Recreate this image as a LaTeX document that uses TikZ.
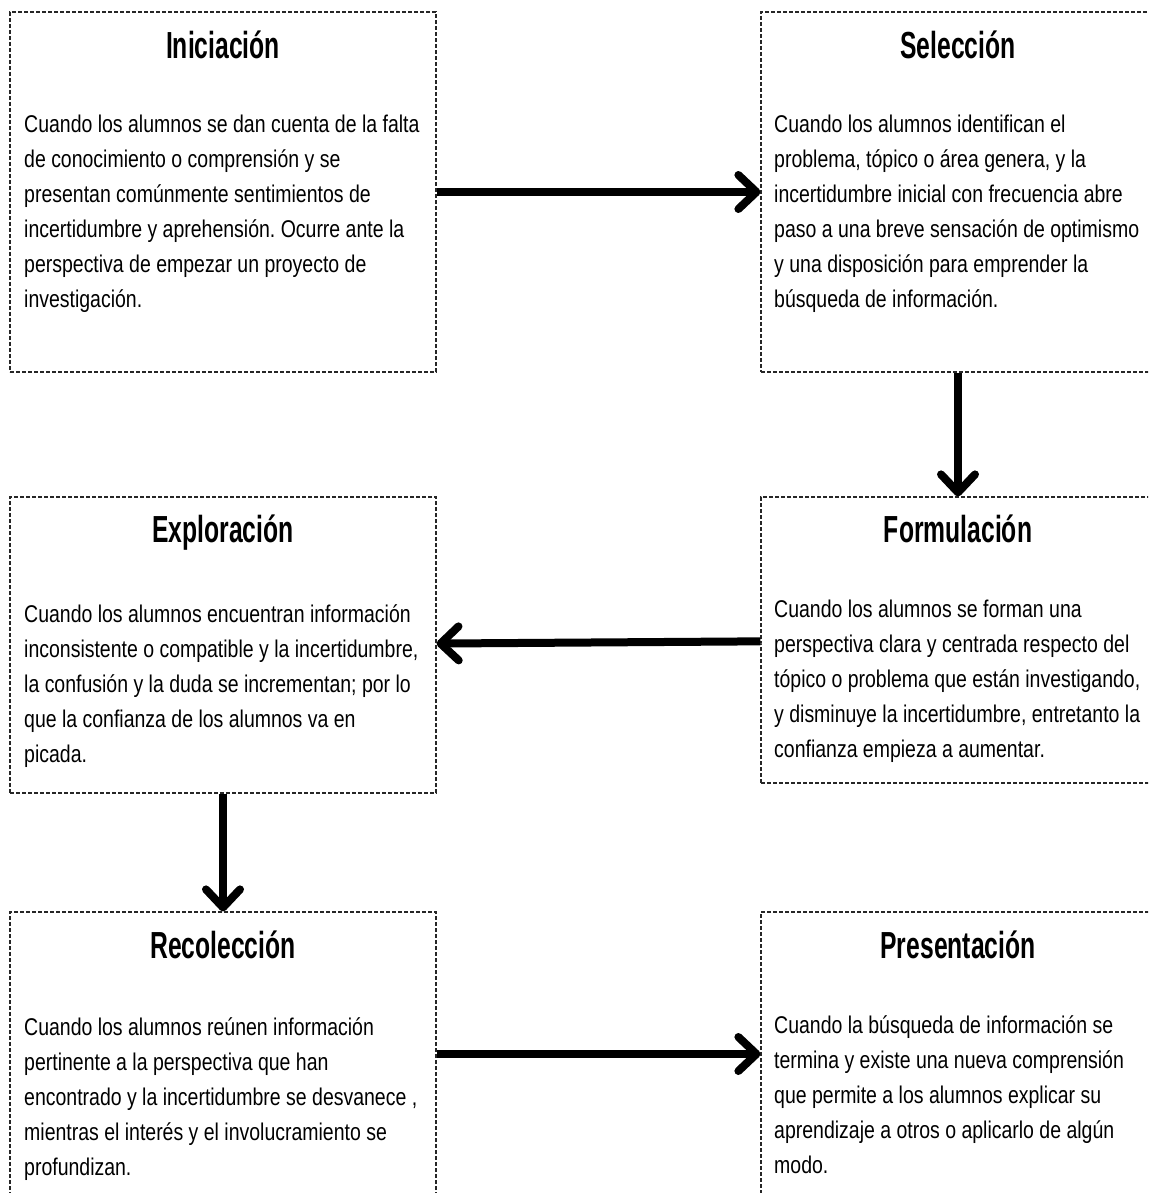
\documentclass[tikz,border=0pt]{standalone}
\usepackage{fontspec}
\setmainfont{Liberation Sans}[FakeStretch=0.805]
\newfontfamily\titlefont{Liberation Sans}[FakeStretch=0.655]
\usetikzlibrary{arrows.meta}
\frenchspacing

\begin{document}
\begin{tikzpicture}[x=1pt, y=-1pt,
	caja/.style={rectangle, draw=black!85, line width=1.2pt, dash pattern=on 4pt off 2pt, inner sep=0pt},
	titulo/.style={inner sep=0pt, anchor=base, font=\titlefont\bfseries\fontsize{37.7}{40}\selectfont},
	texto/.style={inner sep=0pt, anchor=base west, align=left, font=\fontsize{24.2}{35}\selectfont},
	flecha/.style={draw=black, line width=8pt, -{Straight Barb[length=18pt, width=34pt, round]},
		preaction={draw=black!15, transform canvas={shift={(1.5pt,-2.5pt)}}}}]
			\useasboundingbox (0,0) rectangle (1148,1193);
			\clip (0,0) rectangle (1148,1193);
			
			\node[caja, minimum width=426, minimum height=360] (inic) at (223,192){};
			\node[caja, minimum width=394, minimum height=360] (sele) at (958,192){};
			\node[caja, minimum width=426, minimum height=296] (expl) at (223,645){};
			\node[caja, minimum width=394, minimum height=286] (form) at (958,640){};
			\node[caja, minimum width=426, minimum height=284] (reco) at (223,1054){};
			\node[caja, minimum width=394, minimum height=284] (pres) at (958,1054){};
			
			\node[titulo] (t1) at (223,59){Iniciación};
			\node[titulo] (t2) at (958,59){Selección};
			\node[titulo] (t3) at (223,542){Exploración};
			\node[titulo] (t4) at (958,542){Formulación};
			\node[titulo] (t5) at (223,958){Recolección};
			\node[titulo] (t6) at (958,958){Presentación};
			
			% base = baseline of the last line
			\node[texto] (d1) at (24,307){Cuando los alumnos se dan cuenta de la falta\\de conocimiento o comprensión y se\\presentan comúnmente sentimientos de\\incertidumbre y aprehensión. Ocurre ante la\\perspectiva de empezar un proyecto de\\investigación.};
			\node[texto] (d2) at (774,307){Cuando los alumnos identifican el\\problema, tópico o área genera, y la\\incertidumbre inicial con frecuencia abre\\paso a una breve sensación de optimismo\\y una disposición para emprender la\\búsqueda de información.};
			\node[texto] (d3) at (24,762){Cuando los alumnos encuentran información\\inconsistente o compatible y la incertidumbre,\\la confusión y la duda se incrementan; por lo\\que la confianza de los alumnos va en\\picada.};
			\node[texto] (d4) at (774,757){Cuando los alumnos se forman una\\perspectiva clara y centrada respecto del\\tópico o problema que están investigando,\\y disminuye la incertidumbre, entretanto la\\confianza empieza a aumentar.};
			\node[texto] (d5) at (24,1175){Cuando los alumnos reúnen información\\pertinente a la perspectiva que han\\encontrado y la incertidumbre se desvanece ,\\mientras el interés y el involucramiento se\\profundizan.};
			\node[texto] (d6) at (774,1173){Cuando la búsqueda de información se\\termina y existe una nueva comprensión\\que permite a los alumnos explicar su\\aprendizaje a otros o aplicarlo de algún\\modo.};
			
			\path (inic) edge[flecha] (sele);
			\path (sele) edge[flecha] (form);
			\path (form) edge[flecha] (expl);
			\path (expl) edge[flecha] (reco);
			\path (reco) edge[flecha] (pres);
			\end{tikzpicture}
\end{document}
